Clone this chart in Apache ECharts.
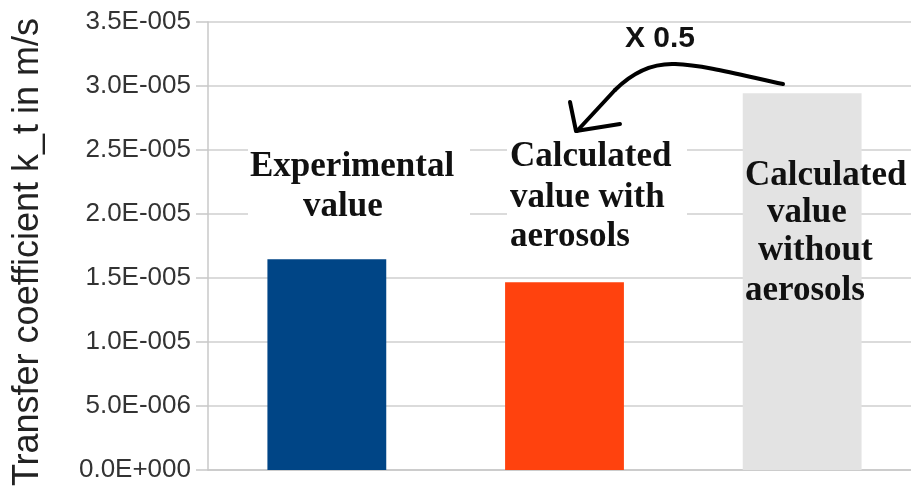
<!DOCTYPE html>
<html>
<head>
<meta charset="utf-8">
<script src="https://cdn.jsdelivr.net/npm/echarts@6/dist/echarts.min.js"></script>
<style>html,body{margin:0;padding:0;background:#fff}#c{width:911px;height:489px}</style>
</head>
<body>
<div id="c"></div>
<script>
var categories = ['Experimental value', 'Calculated value with aerosols', 'Calculated value without aerosols'];
var values = [1.646e-5, 1.466e-5, 2.943e-5];
var barColors = ['#004586', '#ff420e', '#e3e3e3'];
var yTickLabels = ['0.0E+000', '5.0E-006', '1.0E-005', '1.5E-005', '2.0E-005', '2.5E-005', '3.0E-005', '3.5E-005'];
var yAxisTitle = 'Transfer coefficient k_t in m/s';
var annotation = 'X 0.5';

var serif = '"Liberation Serif", "DejaVu Serif", serif';
function label(text, x, y) {
  return { type: 'text', x: x, y: y, z: 100,
    style: { text: text, font: 'bold 35px ' + serif, fill: '#111', verticalAlign: 'middle', align: 'left' } };
}
var stroke = { stroke: '#000', lineWidth: 4, fill: null, lineCap: 'round', lineJoin: 'round' };

var chart = echarts.init(document.getElementById('c'), null, { renderer: 'canvas' });
chart.setOption({
  animation: false,
  backgroundColor: '#fff',
  grid: { left: 208, right: -10, top: 22, bottom: 19, containLabel: false, outerBoundsMode: 'none' },
  xAxis: {
    type: 'category', data: categories,
    axisLine: { show: true, lineStyle: { color: '#c8c8c8', width: 1.5 } },
    axisTick: { show: false }, axisLabel: { show: false }
  },
  yAxis: {
    type: 'value', min: 0, max: 3.5e-5, interval: 5e-6,
    name: yAxisTitle, nameLocation: 'middle', nameRotate: 90, nameGap: 162,
    nameTextStyle: { fontFamily: '"Liberation Sans", Arial, sans-serif', fontSize: 36, color: '#222', padding: [0, 12, 0, 0] },
    axisLine: { show: true, lineStyle: { color: '#c8c8c8', width: 1.5 } },
    axisTick: { show: true, inside: false, length: 12, lineStyle: { color: '#c8c8c8', width: 1.5 } },
    splitLine: { show: true, lineStyle: { color: '#cfcfcf', width: 1.5 } },
    axisLabel: {
      margin: 17, fontFamily: '"Liberation Sans", Arial, sans-serif', fontSize: 26, color: '#333',
      formatter: function (v, i) { return yTickLabels[i]; }
    }
  },
  series: [{
    type: 'bar', barWidth: '50%',
    data: values.map(function (v, i) { return { value: v, itemStyle: { color: barColors[i] } }; })
  }],
  graphic: [
    { type: 'rect', z: 90, shape: { x: 248, y: 140, width: 222, height: 92 }, style: { fill: '#fff' } },
    { type: 'rect', z: 90, shape: { x: 507, y: 138, width: 180, height: 122 }, style: { fill: '#fff' } },
    label('Experimental', 250, 167),
    label('value', 303, 207),
    label('Calculated', 510, 157),
    label('value with', 510, 198),
    label('aerosols', 510, 237),
    label('Calculated', 745, 176),
    label('value', 767, 213),
    label('without', 758, 251),
    label('aerosols', 745, 291),
    { type: 'text', x: 625, y: 39, z: 100,
      style: { text: annotation, font: 'bold 30px "Liberation Sans", Arial, sans-serif', fill: '#111', verticalAlign: 'middle' } },
    { type: 'bezierCurve', z: 100,
      shape: { x1: 783, y1: 84, cpx1: 745, cpy1: 76, cpx2: 705, cpy2: 65, x2: 675, y2: 64 }, style: stroke },
    { type: 'bezierCurve', z: 100,
      shape: { x1: 675, y1: 64, cpx1: 650, cpy1: 63, cpx2: 630, cpy2: 75, x2: 615, y2: 90 }, style: stroke },
    { type: 'polyline', z: 100,
      shape: { points: [[615, 90], [577, 131]] }, style: stroke },
    { type: 'polyline', z: 100,
      shape: { points: [[570, 102], [576, 131], [620, 124]] }, style: stroke }
  ]
});
</script>
</body>
</html>
